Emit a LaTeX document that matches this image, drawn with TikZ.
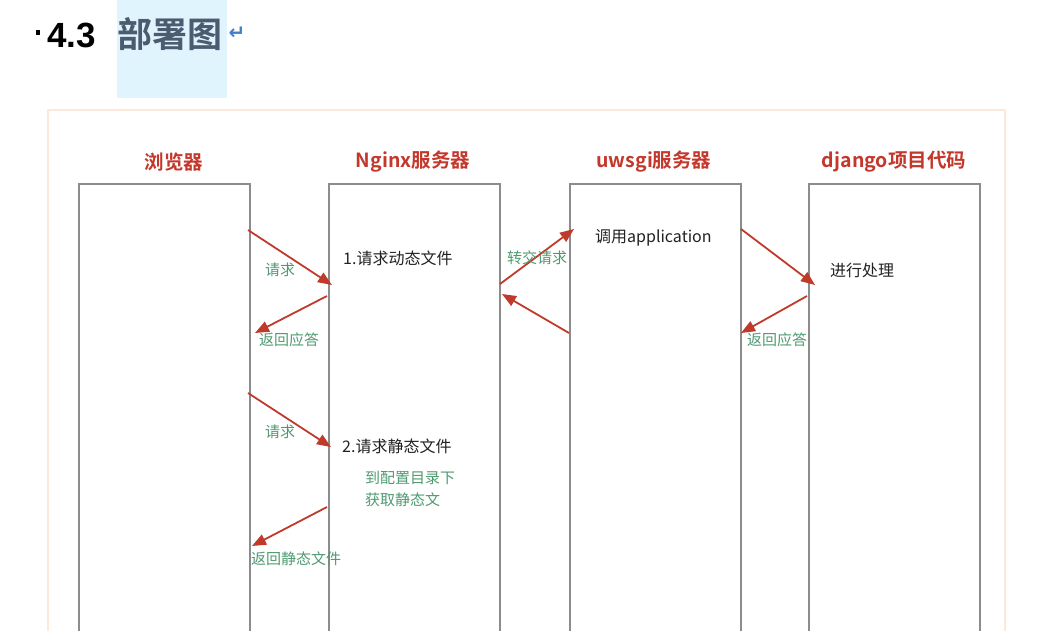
\documentclass[tikz,border=0pt]{standalone}
\usepackage{fontspec}
\setmainfont{Noto Sans CJK SC}[BoldFont={Noto Sans CJK SC Bold}]
\newfontfamily\titlelat{Liberation Sans}
\newfontfamily\symfont{DejaVu Sans}
\usetikzlibrary{arrows.meta}
\definecolor{hlblue}{HTML}{DFF4FD}
\definecolor{titleblue}{HTML}{4B5B70}
\definecolor{retblue}{HTML}{3F7FD0}
\definecolor{framec}{HTML}{FCE9DC}
\definecolor{colgray}{HTML}{8C8C8C}
\definecolor{headred}{HTML}{C4372B}
\definecolor{arrred}{HTML}{BF3A2A}
\definecolor{labgreen}{HTML}{4E9A70}
\definecolor{bodyblack}{HTML}{222222}
\tikzset{
  colbox/.style={draw=colgray, line width=1.8pt, fill=white, minimum width=171pt, minimum height=470pt, anchor=north west, inner sep=0pt},
  header/.style={text=headred, font=\bfseries\fontsize{19.5}{21}\selectfont, inner sep=0pt},
  body/.style={text=bodyblack, font=\fontsize{16}{18}\selectfont, inner sep=0pt, anchor=west},
  lab/.style={text=labgreen, font=\fontsize{15}{17}\selectfont, inner sep=0pt},
  msg/.style={draw=arrred, line width=1.8pt, -{Triangle[length=14pt,width=11pt]}}
}
\begin{document}
\begin{tikzpicture}[x=1pt,y=-1pt]
\useasboundingbox (0,0) rectangle (1037,630);
\clip (0,0) rectangle (1037,630);
% title
\fill[hlblue] (117,0) rectangle (227,98);
\fill[black] (35.5,30) rectangle (39.5,35);
\node[anchor=base west, inner sep=0pt, font=\titlelat\bfseries\fontsize{35}{38}\selectfont] (num) at (47,47) {4.3};
\node[anchor=base west, inner sep=0pt, text=titleblue, font=\bfseries\fontsize{35}{38}\selectfont] (ttl) at (117,47) {部署图};
\node[anchor=center, inner sep=0pt, text=retblue, font=\symfont\bfseries\fontsize{20}{22}\selectfont] (ret) at (237,33) {↵};
% frame
\draw[framec, line width=1.2pt] (48,110) rectangle (1005,700);
% columns
\node[colbox] (c1) at (78,183) {};
\node[colbox] (c2) at (328,183) {};
\node[colbox] (c3) at (569,183) {};
\node[colbox] (c4) at (808,183) {};
% headers
\node[header] (h1) at (174,162) {浏览器};
\node[header] (h2) at (413,162) {Nginx服务器};
\node[header] (h3) at (654,162) {uwsgi服务器};
\node[header] (h4) at (894,162) {django项目代码};
% body texts
\node[body] (t1) at (343,258) {1.请求动态文件};
\node[body] (t2) at (342,446) {2.请求静态文件};
\node[body] (t3) at (595,238) {调用application};
\node[body] (t4) at (830,270) {进行处理};
\node[lab, anchor=west] (t5) at (365,478) {到配置目录下};
\node[lab, anchor=west] (t6) at (365,500) {获取静态文};
% arrow ends
\coordinate (a1s) at (248,230); \coordinate (a1e) at (332,285);
\coordinate (a2s) at (327,296); \coordinate (a2e) at (255,333);
\coordinate (a3s) at (500,284); \coordinate (a3e) at (574,229);
\coordinate (a4s) at (569,333); \coordinate (a4e) at (502,294);
\coordinate (a5s) at (741,229); \coordinate (a5e) at (815,285);
\coordinate (a6s) at (807,296); \coordinate (a6e) at (741,333);
\coordinate (a7s) at (248,393); \coordinate (a7e) at (331,447);
\coordinate (a8s) at (327,507); \coordinate (a8e) at (252,546);
\draw[msg] (a1s) -- (a1e);
\draw[msg] (a2s) -- (a2e);
\draw[msg] (a3s) -- (a3e);
\draw[msg] (a4s) -- (a4e);
\draw[msg] (a5s) -- (a5e);
\draw[msg] (a6s) -- (a6e);
\draw[msg] (a7s) -- (a7e);
\draw[msg] (a8s) -- (a8e);
% labels
\node[lab] (l1) at (280,270) {请求};
\node[lab] (l2) at (289,340) {返回应答};
\node[lab] (l3) at (537,258) {转交请求};
\node[lab] (l4) at (777,340) {返回应答};
\node[lab] (l5) at (280,432) {请求};
\node[lab] (l6) at (296,559) {返回静态文件};
\end{tikzpicture}
\end{document}
